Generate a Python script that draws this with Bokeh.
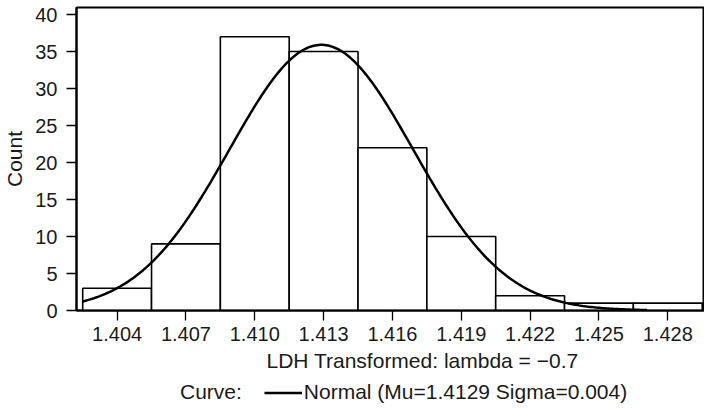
import numpy as np
from bokeh.plotting import figure
from bokeh.layouts import column
from bokeh.models import Range1d, FixedTicker, Legend, LegendItem, NumeralTickFormatter, Title
from bokeh.embed import file_html
from bokeh.resources import INLINE

# Histogram of transformed LDH values
bin_centers = [1.404, 1.407, 1.410, 1.413, 1.416, 1.419, 1.422, 1.425, 1.428]
bin_counts = [3, 9, 37, 35, 22, 10, 2, 1, 1]
bin_width = 0.003

# Fitted normal curve parameters
mu = 1.4129
sigma = 0.004
curve_start = 1.4025
curve_end = 1.4271

x_ticks = [1.404, 1.407, 1.410, 1.413, 1.416, 1.419, 1.422, 1.425, 1.428]
y_ticks = [0, 5, 10, 15, 20, 25, 30, 35, 40]

FONT = "Liberation Sans"
TICK_FS = "20px"
LABEL_FS = "21px"
INK = "#1a1a1a"

p = figure(width=704, height=378,
           x_range=Range1d(1.40223, 1.4296), y_range=Range1d(0, 40.95),
           min_border_left=72, min_border_right=0, min_border_top=7, min_border_bottom=68,
           toolbar_location=None, output_backend="svg")
p.background_fill_color = "white"
p.border_fill_color = "white"
p.outline_line_color = "black"
p.outline_line_width = 2
p.xgrid.visible = False
p.ygrid.visible = False

centers = np.array(bin_centers)
p.quad(left=centers - bin_width / 2, right=centers + bin_width / 2,
       bottom=0, top=bin_counts,
       fill_color="white", line_color="black", line_width=1.6)

# Normal density scaled to counts per bin
n_total = sum(bin_counts)
xs = np.linspace(curve_start, curve_end, 300)
ys = n_total * bin_width / (sigma * np.sqrt(2 * np.pi)) * np.exp(-0.5 * ((xs - mu) / sigma) ** 2)
p.line(xs, ys, line_color="black", line_width=2.5)

for ax in (p.xaxis[0], p.yaxis[0]):
    ax.axis_line_width = 2
    ax.axis_line_color = "black"
    ax.major_tick_out = 10
    ax.major_tick_in = 0
    ax.major_tick_line_width = 1.3
    ax.minor_tick_line_color = None
    ax.major_label_text_font = FONT
    ax.major_label_text_font_size = TICK_FS
    ax.major_label_text_color = INK

p.xaxis.ticker = FixedTicker(ticks=x_ticks)
p.xaxis.formatter = NumeralTickFormatter(format="0.000")
p.xaxis.major_label_standoff = 6

p.yaxis.ticker = FixedTicker(ticks=y_ticks)
p.yaxis.major_label_standoff = 9
p.yaxis.axis_label = "Count"
p.yaxis.axis_label_text_font = FONT
p.yaxis.axis_label_text_font_size = LABEL_FS
p.yaxis.axis_label_text_font_style = "normal"
p.yaxis.axis_label_text_color = INK
p.yaxis.axis_label_standoff = 6

# x axis title
p.add_layout(Title(text="LDH Transformed: lambda = \u22120.7", align="left", offset=190,
                   standoff=6, text_font=FONT, text_font_size=LABEL_FS,
                   text_font_style="normal", text_color=INK), "below")

# Legend strip underneath the histogram; its key lines sit outside the visible range
leg = figure(width=704, height=32, x_range=Range1d(0, 1), y_range=Range1d(0, 1),
             min_border=0, toolbar_location=None, output_backend="svg")
leg.axis.visible = False
leg.grid.visible = False
leg.outline_line_color = None
leg.border_fill_color = "white"
caption = leg.line(x=[2, 3], y=[2, 2], line_alpha=0)
curve_key = leg.line(x=[2, 3], y=[2, 2], line_color="black", line_width=2.5)

legend = Legend(items=[LegendItem(label="Curve:", renderers=[caption]),
                       LegendItem(label="Normal (Mu=1.4129 Sigma=0.004)", renderers=[curve_key])],
                orientation="horizontal", location=(64, 6),
                padding=0, margin=0, spacing=22,
                glyph_width=38, glyph_height=21, label_standoff=2,
                label_text_font=FONT, label_text_font_size=LABEL_FS, label_text_color=INK,
                label_height=21,
                border_line_alpha=0, background_fill_alpha=0)
leg.add_layout(legend)

open("out.html", "w").write(file_html(column(p, leg, spacing=0), INLINE))
